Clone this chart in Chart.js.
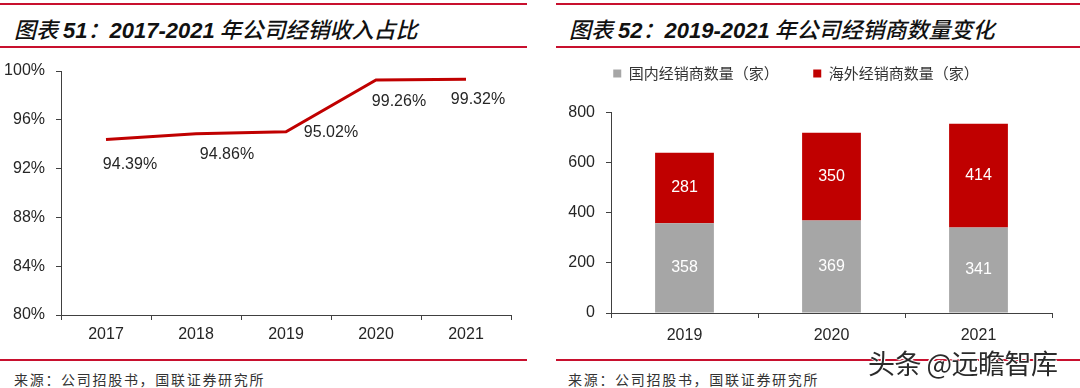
<!DOCTYPE html>
<html>
<head>
<meta charset="utf-8">
<script src="https://cdn.jsdelivr.net/npm/chart.js@4.4.1/dist/chart.umd.min.js"></script>
<style>
  html, body { margin:0; padding:0; background:#fff; }
  body { width:1080px; height:388px; position:relative; overflow:hidden; font-family:"Liberation Sans","Noto Sans CJK SC",sans-serif; }
  .rule { position:absolute; height:1.5px; background:#c8102e; }
  .title { position:absolute; top:12px; font-size:22px; font-style:italic; font-weight:500; color:#111; white-space:nowrap; font-family:"Noto Sans CJK SC",sans-serif; }
  .title b { font-family:"Liberation Sans",sans-serif; font-weight:bold; font-size:22px; }
  .src { position:absolute; top:369px; font-size:14px; color:#333; letter-spacing:1.7px; font-family:"Noto Sans CJK SC",serif; }
  .box { position:absolute; top:50px; height:300px; }
  .wm { position:absolute; left:868px; top:343px; font-size:27px; color:#2a2a2a; font-family:"Noto Sans CJK SC",sans-serif;
        text-shadow:0 0 2px #fff, 0 0 2px #fff, 1px 1px 0 #fff, -1px -1px 0 #fff; letter-spacing:-0.5px; }
</style>
</head>
<body>
<div class="rule" style="left:0;width:527px;top:3px"></div>
<div class="rule" style="left:0;width:527px;top:46px"></div>
<div class="title" style="left:14px">图表 <b>51</b>：<b>2017-2021</b> 年公司经销收入占比</div>
<div class="rule" style="left:556px;width:524px;top:3px"></div>
<div class="rule" style="left:556px;width:524px;top:46px"></div>
<div class="title" style="left:569px">图表 <b>52</b>：<b>2019-2021</b> 年公司经销商数量变化</div>

<div class="box" style="left:0;width:530px"><canvas id="shareChart"></canvas></div>
<div class="box" style="left:540px;width:540px"><canvas id="dealerChart"></canvas></div>

<div class="rule" style="left:0;width:527px;top:359px"></div>
<div class="rule" style="left:556px;width:524px;top:359px"></div>
<div class="src" style="left:14px">来源：公司招股书，国联证券研究所</div>
<div class="src" style="left:568px">来源：公司招股书，国联证券研究所</div>
<div class="wm">头条 @远瞻智库</div>

<script>
// chart 51 - share of distribution revenue
const shareYears  = ['2017', '2018', '2019', '2020', '2021'];
const shareValues = [94.39, 94.86, 95.02, 99.26, 99.32];
const shareTicks  = [80, 84, 88, 92, 96, 100];
// label nudges (px) relative to each point
const shareLabelOffset = [[24, 25], [31, 21], [45, 1], [23, 22], [12, 20]];

// chart 52 - dealer counts
const dealerYears    = ['2019', '2020', '2021'];
const domesticDealer = [358, 369, 341];
const overseasDealer = [281, 350, 414];
const dealerTicks    = [0, 200, 400, 600, 800];

const AXIS = '#404040';
const TXT  = '#262626';
const FONT = '"Liberation Sans", Arial, sans-serif';

Chart.defaults.font.family = FONT;
Chart.defaults.animation = false;

const lineLabels = {
  id: 'lineLabels',
  afterDatasetsDraw(chart) {
    const ctx = chart.ctx;
    const meta = chart.getDatasetMeta(0);
    ctx.save();
    ctx.font = '16px ' + FONT;
    ctx.fillStyle = '#262626';
    ctx.textAlign = 'center';
    ctx.textBaseline = 'middle';
    meta.data.forEach((pt, i) => {
      const o = shareLabelOffset[i];
      ctx.fillText(shareValues[i].toFixed(2) + '%', pt.x + o[0], pt.y + o[1]);
    });
    ctx.restore();
  }
};

const barLabels = {
  id: 'barLabels',
  afterDatasetsDraw(chart) {
    const ctx = chart.ctx;
    ctx.save();
    ctx.font = '16px ' + FONT;
    ctx.fillStyle = '#fff';
    ctx.textAlign = 'center';
    ctx.textBaseline = 'middle';
    chart.data.datasets.forEach((ds, di) => {
      chart.getDatasetMeta(di).data.forEach((bar, i) => {
        ctx.fillText(String(ds.data[i]), bar.x, (bar.y + bar.base) / 2);
      });
    });
    ctx.restore();
  }
};

new Chart(document.getElementById('shareChart'), {
  type: 'line',
  data: {
    labels: shareYears,
    datasets: [{
      data: shareValues,
      borderColor: '#c00000',
      borderWidth: 3,
      pointRadius: 0,
      tension: 0,
      fill: false
    }]
  },
  options: {
    responsive: true, maintainAspectRatio: false,
    layout: { padding: { top: 21, right: 19, left: 0, bottom: 0 } },
    plugins: { legend: { display: false }, tooltip: { enabled: false } },
    scales: {
      x: {
        offset: true,
        grid: { offset: true, drawOnChartArea: false, drawTicks: true, tickLength: 5, color: AXIS },
        border: { color: AXIS, width: 1 },
        ticks: { color: TXT, font: { size: 16 }, padding: 5, maxRotation: 0 },
        afterFit(s) { s.height = 35; }
      },
      y: {
        min: 80, max: 100,
        afterBuildTicks(s) { s.ticks = shareTicks.map(v => ({ value: v })); },
        grid: { drawOnChartArea: false, drawTicks: true, tickLength: 5, color: AXIS },
        border: { color: AXIS, width: 1 },
        ticks: { color: TXT, font: { size: 16 }, padding: 11, callback: v => v + '%' },
        afterFit(s) { s.width = 61; }
      }
    }
  },
  plugins: [lineLabels]
});

new Chart(document.getElementById('dealerChart'), {
  type: 'bar',
  data: {
    labels: dealerYears,
    datasets: [
      { label: '国内经销商数量（家）　　', data: domesticDealer, backgroundColor: '#a6a6a6' },
      { label: '海外经销商数量（家）', data: overseasDealer, backgroundColor: '#c00000' }
    ]
  },
  options: {
    responsive: true, maintainAspectRatio: false,
    layout: { padding: { top: 4, right: 28, left: 0, bottom: 0 } },
    datasets: { bar: { barPercentage: 0.4, categoryPercentage: 1 } },
    plugins: {
      legend: {
        position: 'top', weight: 3000,
        labels: {
          boxWidth: 8, boxHeight: 8, padding: 12, color: '#333',
          font: { size: 15, family: '"Noto Sans CJK SC", sans-serif' }
        }
      },
      title: { display: true, text: ' ', weight: 2000, padding: { top: 0, bottom: 7 }, font: { size: 12 } },
      tooltip: { enabled: false }
    },
    scales: {
      x: {
        stacked: true,
        grid: { offset: true, drawOnChartArea: false, drawTicks: true, tickLength: 5, color: AXIS },
        border: { color: AXIS, width: 1 },
        ticks: { color: TXT, font: { size: 16 }, padding: 8, maxRotation: 0 },
        afterFit(s) { s.height = 37; }
      },
      y: {
        stacked: true, min: 0, max: 800,
        afterBuildTicks(s) { s.ticks = dealerTicks.map(v => ({ value: v })); },
        grid: { drawOnChartArea: false, drawTicks: true, tickLength: 5, color: AXIS },
        border: { color: AXIS, width: 1 },
        ticks: { color: TXT, font: { size: 16 }, padding: 11 },
        afterFit(s) { s.width = 71; }
      }
    }
  },
  plugins: [barLabels]
});
</script>
</body>
</html>
